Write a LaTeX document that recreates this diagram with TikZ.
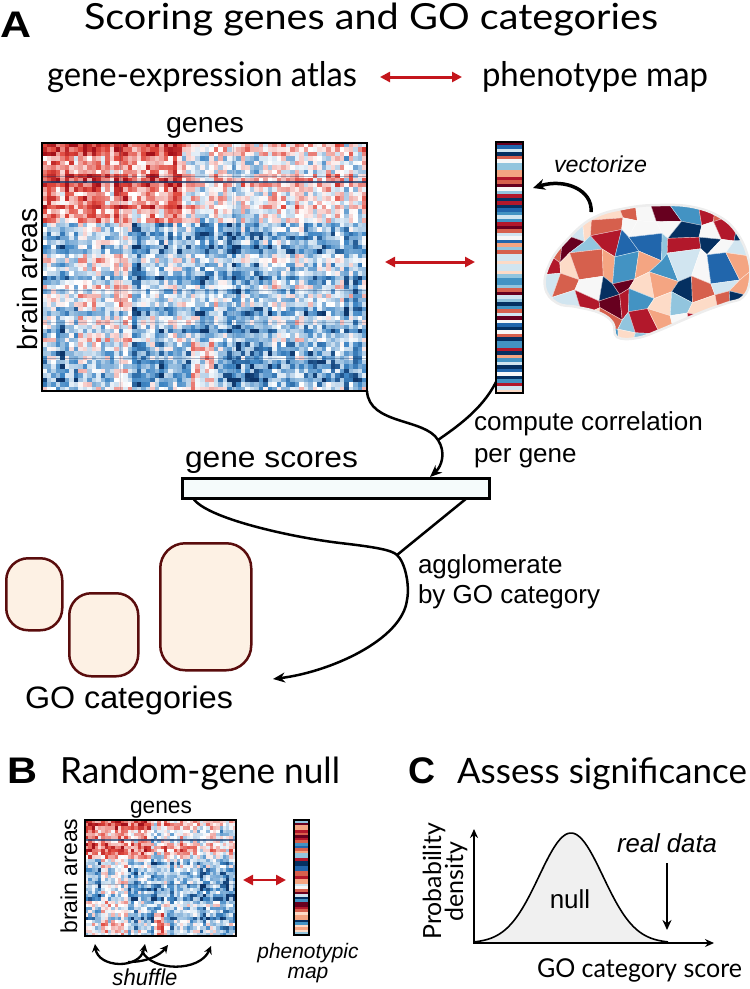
\documentclass[tikz,border=0pt]{standalone}
\usepackage{fontspec}
\setmainfont{Liberation Sans}
\newfontfamily\av{Lato}
\usepackage{graphicx}
\usetikzlibrary{arrows.meta}
\definecolor{p0}{HTML}{67001F}
\definecolor{p1}{HTML}{B2182B}
\definecolor{p2}{HTML}{D6604D}
\definecolor{p3}{HTML}{F4A582}
\definecolor{p4}{HTML}{FDDBC7}
\definecolor{p5}{HTML}{F7F7F7}
\definecolor{p6}{HTML}{D1E5F0}
\definecolor{p7}{HTML}{92C5DE}
\definecolor{p8}{HTML}{4393C3}
\definecolor{p9}{HTML}{2166AC}
\definecolor{p10}{HTML}{053061}
\definecolor{hmRm}{HTML}{E0473C}
\definecolor{hmRd}{HTML}{A3101A}
\definecolor{hmBm}{HTML}{3F86C4}
\definecolor{hmBd}{HTML}{0D3569}
\definecolor{arrRed}{HTML}{C4161C}
\definecolor{goB}{HTML}{5A0D0D}
\definecolor{goF}{HTML}{FDF1E4}
\definecolor{barF}{HTML}{F5FBFB}
\newcommand\fw[2]{\resizebox{#1}{\height}{#2}}
\newcommand\fsz[1]{\fontsize{#1}{#1}\selectfont}
\newcommand\heatmap[6]{%
 \pgfmathsetmacro\hmcw{#3/#5}%
 \pgfmathsetmacro\hmch{#4/#6}%
 \pgfmathtruncatemacro\hmnc{#5-1}%
 \pgfmathtruncatemacro\hmnr{#6-1}%
 \foreach \j in {0,...,\hmnr}{%
   \pgfmathsetmacro\hmv{\j/#6}%
   \pgfmathsetmacro\hmr{(frac(abs(sin(\j*131.7+5))*43.7)-0.5)*0.55}%
   \foreach \i in {0,...,\hmnc}{%
     \pgfmathsetmacro\hmu{\i/#5}%
     \pgfmathsetmacro\hmc{(frac(abs(sin(\i*73.3+7))*71.9)-0.5)*0.45}%
     \pgfmathsetmacro\hmbase{\hmv<0.31 ? (\hmu<0.42 ? 0.48-0.5*\hmv : -0.02) : (((\hmu>0.1)&&(\hmu<0.27)) ? -0.12 : ((((\hmv>0.8)&&(\hmu>0.45))&&(\hmu<0.52)) ? 0.3 : -0.42))}%
     \pgfmathsetmacro\hmval{max(-1,min(1,\hmbase+\hmr+\hmc+0.42*rand))}%
     \pgfmathtruncatemacro\hmp{abs(\hmval)*100}%
     \ifdim\hmval pt>0pt
       \ifnum\hmp<70 \pgfmathtruncatemacro\hmq{\hmp*10/7}\def\hmcol{hmRm!\hmq!white}\else\pgfmathtruncatemacro\hmq{(\hmp-70)*3.3}\def\hmcol{hmRd!\hmq!hmRm}\fi
     \else
       \ifnum\hmp<70 \pgfmathtruncatemacro\hmq{\hmp*10/7}\def\hmcol{hmBm!\hmq!white}\else\pgfmathtruncatemacro\hmq{(\hmp-70)*3.3}\def\hmcol{hmBd!\hmq!hmBm}\fi
     \fi
     \fill[\hmcol] ({#1+\i*\hmcw},{#2+\j*\hmch}) rectangle ++({\hmcw+0.4},{\hmch+0.4});
   }%
 }%
}
\newcommand\vstripes[5]{%
 \pgfmathsetmacro\vsh{#4/#5}%
 \pgfmathtruncatemacro\vsn{#5-1}%
 \foreach \k in {0,...,\vsn}{%
   \pgfmathrandominteger\ci{0}{10}%
   \fill[p\ci] ({#1},{#2+\k*\vsh}) rectangle ++({#3},{\vsh+0.3});
 }%
}
\newcommand\bx[2]{538+#1*19.5+(frac(abs(sin(#1*127.1+#2*311.7+1))*43.758)-0.5)*16}
\newcommand\by[2]{198+#2*19.5+(frac(abs(sin(#1*269.5+#2*183.3+2))*43.758)-0.5)*16}
\begin{document}
\begin{tikzpicture}[x=1pt,y=-1pt,
  txt/.style={inner sep=0pt,outer sep=0pt},
  frame/.style={draw=black,line width=2.5pt,inner sep=0pt,outer sep=0pt,anchor=north west},
  conn/.style={line width=2.5pt,draw=black},
  tipk/.style={-{Stealth[length=12pt,width=10pt]}},
  redarr/.style={draw=arrRed,line width=3pt,{Triangle[length=10pt,width=10pt]}-{Triangle[length=10pt,width=10pt]}},
  gobox/.style={draw=goB,fill=goF,line width=2.5pt,rounded corners=22pt,inner sep=0pt,anchor=north west},
  shuf/.style={line width=2.3pt,draw=black},
  axis/.style={line width=2.3pt,draw=black}]
\useasboundingbox (0,0) rectangle (750,989);

% ---------------- Panel A ----------------
\node[txt,anchor=base west] (lA) at (0,37) {\fw{31pt}{\fsz{37}\bfseries A}};
\node[txt,anchor=base west] (title) at (84,29) {\fw{574pt}{\av\fsz{36}Scoring genes and GO categories}};
\node[txt,anchor=base west] (gea) at (47,86) {\fw{310pt}{\av\fsz{34}gene-expression atlas}};
\node[txt,anchor=base west] (pm) at (482,86) {\fw{226pt}{\av\fsz{34}phenotype map}};
\coordinate (ra1) at (380,77);
\coordinate (ra2) at (462,77);
\draw[redarr] (ra1) -- (ra2);

\node[txt,anchor=base] (gA) at (205,132) {\fw{78pt}{\fsz{28}genes}};
\node[txt,anchor=base,rotate=90] (baA) at (37,279) {\fw{142pt}{\fsz{28}brain areas}};

\pgfmathsetseed{7}
\heatmap{42}{143}{325}{248}{72}{56}
\draw[hmBd,opacity=0.75,line width=1.6pt] (42,182) -- (367,182);
\draw[hmBd,opacity=0.35,line width=0.8pt] (42,176) -- (367,176);
\draw[hmBd,opacity=0.35,line width=0.8pt] (42,290) -- (367,290);
\draw[hmBd,opacity=0.35,line width=0.8pt] (42,358) -- (367,358);
\draw[hmBd,opacity=0.25,line width=0.8pt] (42,322) -- (367,322);
\draw[hmBd,opacity=0.2,line width=0.8pt] (120,143) -- (120,391);
\draw[hmBd,opacity=0.2,line width=0.8pt] (233,143) -- (233,391);
\node[frame,minimum width=325pt,minimum height=248pt] (hmA) at (42,143) {};

\pgfmathsetseed{11}
\vstripes{496}{142}{27}{251}{72}
\node[frame,minimum width=27pt,minimum height=251pt] (vecA) at (496,142) {};

\coordinate (rm1) at (385,262);
\coordinate (rm2) at (475,262);
\draw[redarr] (rm1) -- (rm2);

% brain
\begin{scope}
\clip plot[smooth cycle,tension=0.7] coordinates {(545,287) (550,263) (567,240) (593,218) (627,208) (660,205) (693,207) (720,217) (737,233) (748,257) (750,280) (743,297) (727,303) (707,310) (683,320) (660,330) (637,338) (617,337) (613,323) (600,313) (577,307) (557,303)};
\fill[p5] (530,190) rectangle (755,350);
\pgfmathsetseed{23}
\foreach \i in {0,...,11}{%
  \foreach \j in {0,...,7}{%
    \pgfmathtruncatemacro\ip{\i+1}%
    \pgfmathtruncatemacro\jp{\j+1}%
    \pgfmathrandominteger\ci{0}{10}%
    \fill[p\ci,draw=white!70!p\ci,line width=0.4pt] ({\bx{\i}{\j}},{\by{\i}{\j}}) -- ({\bx{\ip}{\j}},{\by{\ip}{\j}}) -- ({\bx{\ip}{\jp}},{\by{\ip}{\jp}}) -- ({\bx{\i}{\jp}},{\by{\i}{\jp}}) -- cycle;
  }%
}
\end{scope}
\draw[white!93!black,line width=2.5pt] plot[smooth cycle,tension=0.7] coordinates {(545,287) (550,263) (567,240) (593,218) (627,208) (660,205) (693,207) (720,217) (737,233) (748,257) (750,280) (743,297) (727,303) (707,310) (683,320) (660,330) (637,338) (617,337) (613,323) (600,313) (577,307) (557,303)};

\node[txt,anchor=base west] (vz) at (554,172) {\fw{93pt}{\fsz{23}\itshape vectorize}};
\coordinate (vzs) at (591,212);
\coordinate (vze) at (533,188);
\draw[line width=3.5pt,-{Stealth[length=12pt,width=11pt]}] (vzs) .. controls (593,190) and (565,178) .. (vze);

% gene scores
\node[txt,anchor=base west] (cc1) at (474,430) {\fw{229pt}{\fsz{26}compute correlation}};
\node[txt,anchor=base west] (cc2) at (474,462) {\fsz{26}per gene};
\node[txt,anchor=base west] (gsl) at (185,467) {\fw{173pt}{\fsz{29}gene scores}};
\node[draw=black,fill=barF,line width=3pt,inner sep=0pt,outer sep=0pt,anchor=north west,minimum width=307pt,minimum height=20pt] (gs) at (182,478) {};

\coordinate (mrg) at (438,440);
\coordinate (gsin) at (430,477);
\draw[conn,tipk] (hmA.south east) .. controls (369,425) and (425,418) .. (mrg) .. controls (446,452) and (442,466) .. (gsin);
\draw[conn] ([yshift=11pt]vecA.south west) .. controls (482,410) and (455,428) .. (mrg);

\coordinate (jn) at (397,555);
\coordinate (gotip) at (273,679);
\draw[conn,tipk] ([xshift=11pt]gs.south west) .. controls (205,518) and (290,537) .. (340,543) .. controls (375,547) and (392,550) .. (jn) .. controls (405,562) and (410,585) .. (407,600) .. controls (402,640) and (330,672) .. (gotip);
\draw[conn] ([xshift=-22pt]gs.south east) -- (jn);

\node[txt,anchor=base west] (ag1) at (418,573) {\fsz{26}agglomerate};
\node[txt,anchor=base west] (ag2) at (418,603) {\fsz{26}by GO category};

\node[gobox,minimum width=56pt,minimum height=72pt] (go1) at (5,557) {};
\node[gobox,minimum width=69pt,minimum height=83pt] (go2) at (68,592) {};
\node[gobox,minimum width=91pt,minimum height=127pt,rounded corners=25pt] (go3) at (159,542) {};
\node[txt,anchor=base west] (gocat) at (25,708) {\fw{208pt}{\fsz{31}GO categories}};

% ---------------- Panel B ----------------
\node[txt,anchor=base west] (lB) at (7,783) {\fw{30pt}{\fsz{37}\bfseries B}};
\node[txt,anchor=base west] (tB) at (60,783) {\fw{280pt}{\av\fsz{36}Random-gene null}};
\node[txt,anchor=base] (gB) at (161,813) {\fw{62pt}{\fsz{23}genes}};
\node[txt,anchor=base,rotate=90] (baB) at (77,876) {\fw{115pt}{\fsz{23}brain areas}};

\pgfmathsetseed{5}
\heatmap{85}{820}{151}{116}{46}{36}
\draw[hmBd,opacity=0.7,line width=1.2pt] (85,840) -- (236,840);
\draw[hmBd,opacity=0.3,line width=0.6pt] (85,884) -- (236,884);
\node[frame,line width=2pt,minimum width=151pt,minimum height=116pt] (hmB) at (85,820) {};

\pgfmathsetseed{31}
\vstripes{294}{820}{15}{115}{45}
\node[frame,line width=2pt,minimum width=15pt,minimum height=115pt] (vecB) at (294,820) {};

\coordinate (rb1) at (243,880);
\coordinate (rb2) at (286,880);
\draw[redarr,line width=2.5pt] (rb1) -- (rb2);

\node[txt,anchor=base] (ph1) at (308,958) {\fw{101pt}{\fsz{21}\itshape phenotypic}};
\node[txt,anchor=base] (ph2) at (308,978) {\fsz{21}\itshape map};

\coordinate (s1a) at (95,944);
\coordinate (s1b) at (145,944);
\coordinate (s2a) at (142,951);
\coordinate (s2b) at (211,946);
\coordinate (s3a) at (128,962);
\coordinate (s3b) at (168,945);
\draw[shuf,{Stealth[length=8pt,width=8pt]}-{Stealth[length=8pt,width=8pt]}] (s1a) .. controls (98,968) and (140,970) .. (s1b);
\draw[shuf,-{Stealth[length=8pt,width=8pt]}] (s2a) .. controls (152,972) and (200,972) .. (s2b);
\draw[shuf,-{Stealth[length=8pt,width=8pt]}] (s3a) .. controls (148,962) and (160,955) .. (s3b);
\node[txt,anchor=base] (shf) at (145,985) {\fw{65pt}{\fsz{23}\itshape shuffle}};

% ---------------- Panel C ----------------
\node[txt,anchor=base west] (lC) at (408,783) {\fw{27pt}{\fsz{37}\bfseries C}};
\node[txt,anchor=base west] (tC) at (457,783) {\fw{290pt}{\av\fsz{35}Assess significance}};

\fill[gray!12] plot[domain=474:668,samples=90] (\x,{943-110*exp(-((\x-571)/32)^2/2)}) -- cycle;
\draw[line width=1.6pt] plot[domain=474:668,samples=90] (\x,{943-110*exp(-((\x-571)/32)^2/2)});
\coordinate (org) at (474,943);
\coordinate (ytop) at (474,829);
\coordinate (xend) at (714,943);
\draw[axis,{Stealth[length=9pt,width=8pt]}-{Stealth[length=9pt,width=8pt]}] (ytop) -- (org) -- (xend);

\node[txt,anchor=base] (nul) at (570,908) {\fsz{26}null};
\node[txt,anchor=base west] (rdat) at (617,852) {\fw{100pt}{\fsz{26}\itshape real data}};
\coordinate (rda) at (667,863);
\coordinate (rdb) at (667,930);
\draw[line width=2.2pt,-{Stealth[length=10pt,width=9pt]}] (rda) -- (rdb);

\node[txt,anchor=base,rotate=90] (prob) at (441,881) {\fw{117pt}{\av\fsz{25}Probability}};
\node[txt,anchor=base,rotate=90] (dens) at (463,882) {\av\fsz{25}density};
\node[txt,anchor=base west] (gosc) at (537,977) {\fw{205pt}{\av\fsz{26}GO category score}};
\end{tikzpicture}
\end{document}
